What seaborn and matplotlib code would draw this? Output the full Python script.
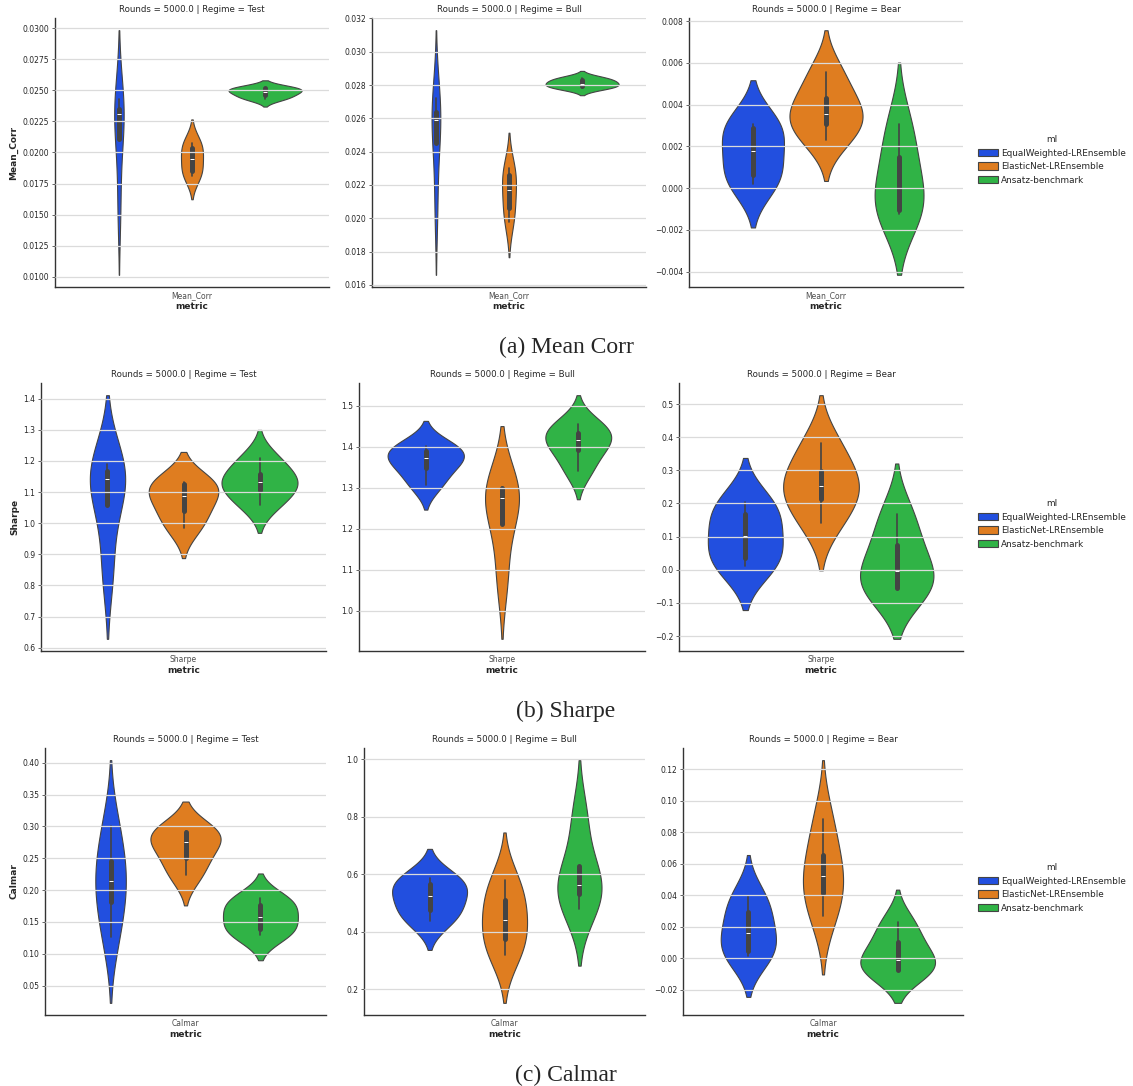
import numpy as np
import pandas as pd
import matplotlib.pyplot as plt
import seaborn as sns

# ── DATA: five rounds per model ─────
models = ['EqualWeighted-LREnsemble', 'ElasticNet-LREnsemble', 'Ansatz-benchmark']
regimes = ['Test', 'Bull', 'Bear']
metrics = ['Mean_Corr', 'Sharpe', 'Calmar']
captions = ['(a) Mean Corr', '(b) Sharpe', '(c) Calmar']

mean_corr_test = [[0.0157, 0.0211, 0.0231, 0.0235, 0.0243],
                  [0.0181, 0.0185, 0.0195, 0.0204, 0.0208],
                  [0.0243, 0.0246, 0.0249, 0.02515, 0.0252]]
mean_corr_bull = [[0.0207, 0.0245, 0.0259, 0.0264, 0.0272],
                  [0.0198, 0.0206, 0.0217, 0.0226, 0.0230],
                  [0.0278, 0.02794, 0.02808, 0.02828, 0.02844]]
mean_corr_bear = [[0.00019, 0.00062, 0.00177, 0.00288, 0.00309],
                  [0.00232, 0.00309, 0.00357, 0.00430, 0.00558],
                  [-0.00123, -0.00107, 0.0, 0.00151, 0.00309]]

sharpe_test = [[0.85, 1.057, 1.141, 1.169, 1.190],
               [0.986, 1.039, 1.089, 1.126, 1.131],
               [1.059, 1.107, 1.131, 1.158, 1.210]]
sharpe_bull = [[1.307, 1.348, 1.372, 1.389, 1.403],
               [1.08, 1.212, 1.275, 1.299, 1.302],
               [1.342, 1.391, 1.417, 1.434, 1.456]]
sharpe_bear = [[0.011, 0.036, 0.102, 0.168, 0.205],
               [0.142, 0.215, 0.254, 0.297, 0.383],
               [-0.0555, -0.0545, -0.005, 0.075, 0.168]]

calmar_test = [[0.127, 0.182, 0.214, 0.246, 0.300],
               [0.223, 0.251, 0.276, 0.291, 0.292],
               [0.129, 0.139, 0.158, 0.177, 0.187]]
calmar_bull = [[0.437, 0.477, 0.526, 0.566, 0.589],
               [0.319, 0.376, 0.442, 0.511, 0.580],
               [0.480, 0.532, 0.563, 0.629, 0.80]]
calmar_bear = [[0.0014, 0.005, 0.016, 0.0293, 0.0398],
               [0.0272, 0.0415, 0.0521, 0.0657, 0.0885],
               [-0.0075, -0.0073, -0.0008, 0.0102, 0.0229]]

table = {
    'Mean_Corr': [mean_corr_test, mean_corr_bull, mean_corr_bear],
    'Sharpe': [sharpe_test, sharpe_bull, sharpe_bear],
    'Calmar': [calmar_test, calmar_bull, calmar_bear],
}

rows = []
for metric in metrics:
    for regime, groups in zip(regimes, table[metric]):
        for ml, vals in zip(models, groups):
            for v in vals:
                rows.append({'metric': metric, 'Regime': regime, 'ml': ml,
                             'Rounds': 5000.0, 'value': v})
df = pd.DataFrame(rows)

# ── FIGURE ────────────────────────────────────────────────────
sns.set_theme(style='whitegrid')
plt.rcParams['axes.labelweight'] = 'bold'

W, H = 1133, 1086
fig = plt.figure(figsize=(W / 100, H / 100), dpi=100)

# axes boxes in pixels: (left, right) per column, (top, bottom) per row
col_px = [[(55, 329), (372, 646), (689, 963)],
          [(41, 326), (359, 645), (679, 963)],
          [(45, 326), (364, 645), (683, 963)]]
row_px = [(18, 287), (383, 651), (748, 1015)]
caption_y = [347, 711, 1075]
legend_y = [160, 524, 888]

for r, metric in enumerate(metrics):
    top, bottom = row_px[r]
    for c, regime in enumerate(regimes):
        left, right = col_px[r][c]
        ax = fig.add_axes([left / W, 1 - bottom / H, (right - left) / W, (bottom - top) / H])
        sub = df[(df['metric'] == metric) & (df['Regime'] == regime)]
        sns.violinplot(data=sub, x='metric', y='value', hue='ml', hue_order=models,
                       palette='bright', inner='box', linewidth=0.8, ax=ax,
                       common_norm=True, bw_adjust=1.1, legend=(c == 2))
        ax.set_axisbelow(False)
        ax.grid(axis='y', color='.86', linewidth=0.9)
        ax.grid(axis='x', visible=False)
        sns.despine(ax=ax)
        for s in ['left', 'bottom']:
            ax.spines[s].set_color('.2')
            ax.spines[s].set_linewidth(1.0)
        ax.tick_params(axis='y', left=True, length=2, width=0.6, labelsize=5.5, pad=2,
                       color='.3')
        ax.tick_params(axis='x', bottom=False, length=0, labelsize=5.5, pad=3,
                       labelcolor='.3')
        ax.set_title(f'Rounds = 5000.0 | Regime = {regime}', fontsize=6.2, pad=4)
        ax.set_xlabel('metric', fontsize=6.5, labelpad=1)
        ax.set_ylabel(metric if c == 0 else '', fontsize=6.5, labelpad=3)
        if c == 2:
            handles, labels = ax.get_legend_handles_labels()
            ax.get_legend().remove()
            fig.legend(handles, labels, title='ml', loc='center left',
                       bbox_to_anchor=(970 / W, 1 - legend_y[r] / H),
                       frameon=False, fontsize=6.4, title_fontsize=6.4,
                       handlelength=2.2, handleheight=0.9, labelspacing=0.5,
                       handletextpad=0.4)
    fig.text(566 / W, 1 - caption_y[r] / H, captions[r], ha='center', va='center',
             fontsize=17, family='Liberation Serif')

fig.savefig('out.png', dpi=100)
